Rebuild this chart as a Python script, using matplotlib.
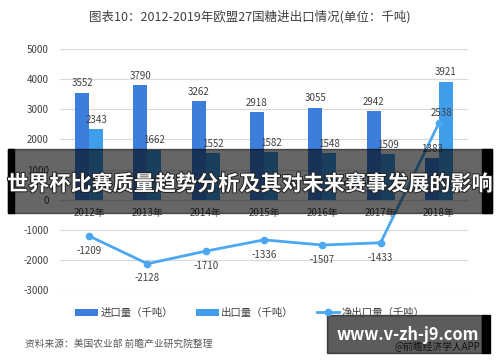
import numpy as np
import matplotlib.pyplot as plt
import matplotlib.patheffects as pe
from matplotlib.patches import Rectangle

plt.rcParams['font.family'] = ['Noto Sans CJK SC', 'DejaVu Sans']

years = ["2012年", "2013年", "2014年", "2015年", "2016年", "2017年", "2018年"]
imports = [3552, 3790, 3262, 2918, 3055, 2942, 1383]
exports = [2343, 1662, 1552, 1582, 1548, 1509, 3921]
net = [-1209, -2128, -1710, -1336, -1507, -1433, 2538]
yticks = [-3000, -2000, -1000, 0, 1000, 2000, 3000, 4000, 5000]

c_imp = '#3C7EDC'
c_exp = '#3F9DEA'
c_net = '#4BA8F0'
txt = '#404040'

W, H = 500, 362
fig = plt.figure(figsize=(5, 3.62), dpi=100)
ax = fig.add_axes([60 / W, 1 - 290 / H, 408 / W, 241 / H])

x = np.arange(len(years))
w = 0.24
b1 = ax.bar(x - w / 2, imports, w, color=c_imp, zorder=2, label='进口量（千吨）')
b2 = ax.bar(x + w / 2, exports, w, color=c_exp, zorder=2, label='出口量（千吨）')
ln, = ax.plot(x, net, color=c_net, lw=2, marker='o', ms=4.5, zorder=3,
              label='净出口量（千吨）')

for xi, v in zip(x, imports):
    ax.annotate(str(v), (xi - w / 2, v), xytext=(0, 3), textcoords='offset points',
                ha='center', va='bottom', fontsize=7, color=txt)
for xi, v in zip(x, exports):
    ax.annotate(str(v), (xi + w / 2, v), xytext=(0, 3), textcoords='offset points',
                ha='center', va='bottom', fontsize=7, color=txt)
for xi, v in zip(x, net):
    if v > 0:
        ax.annotate(str(v), (xi, v), xytext=(2, 4), textcoords='offset points',
                    ha='center', va='bottom', fontsize=7, color=txt)
    else:
        ax.annotate(str(v), (xi, v), xytext=(0, -7), textcoords='offset points',
                    ha='center', va='top', fontsize=7, color=txt)

for xi, lab in zip(x, years):
    ax.text(xi, -460, lab, ha='center', va='center', fontsize=7, color=txt)

ax.set_xlim(-0.5, len(years) - 0.5)
ax.set_ylim(-3000, 5000)
ax.set_yticks(yticks)
ax.set_yticklabels([str(t) for t in yticks], fontsize=7, color=txt)
ax.set_xticks([])
ax.tick_params(axis='y', length=0, pad=8)
ax.grid(axis='y', color='#D9D9D9', lw=0.8, zorder=0)
for s in ax.spines.values():
    s.set_visible(False)

fig.text(0.5, 1 - 17 / H, '图表10：2012-2019年欧盟27国糖进出口情况(单位：千吨)',
         ha='center', va='center', fontsize=9, color='#404040')

fig.legend(handles=[b1, b2, ln], loc='center', bbox_to_anchor=(0.5, 1 - 313 / H),
           ncol=3, frameon=False, fontsize=7.5, handlelength=2.2, handletextpad=0.2,
           columnspacing=2.2, labelcolor=txt)

fig.text(25 / W, 1 - 344 / H, '资料来源：美国农业部 前瞻产业研究院整理',
         ha='left', va='center', fontsize=7, color='#595959', style='italic')

# overlay banner
fig.patches.append(Rectangle((8 / W, 1 - 213 / H), 484 / W, 64 / H,
                             transform=fig.transFigure, color='black', alpha=0.6, zorder=5))
fig.patches.append(Rectangle((8 / W, 1 - 213 / H), 6 / W, 64 / H,
                             transform=fig.transFigure, color='black', zorder=5))
fig.patches.append(Rectangle((482 / W, 1 - 213 / H), 10 / W, 64 / H,
                             transform=fig.transFigure, color='black', zorder=5))
fig.text(0.5, 1 - 184 / H, '世界杯比赛质量趋势分析及其对未来赛事发展的影响',
         ha='center', va='center', fontsize=15.2, color='white', weight='bold', zorder=6,
         path_effects=[pe.withStroke(linewidth=1.5, foreground='#222222')])

# watermark box bottom right
fig.text(480 / W, 1 - 347 / H, '@前瞻经济学人APP', ha='right', va='center',
         fontsize=7, color='#333333', zorder=4)
fig.patches.append(Rectangle((327 / W, 1 - 353 / H), 155 / W, 38 / H,
                             transform=fig.transFigure, color='black', alpha=0.64, zorder=5))
fig.patches.append(Rectangle((482 / W, 1 - 353 / H), 8 / W, 38 / H,
                             transform=fig.transFigure, color='black', zorder=5))
fig.text(408 / W, 1 - 335 / H, 'www.v-zh-j9.com', ha='center', va='center',
         fontsize=11.8, color='white', weight='bold', zorder=6)

fig.savefig('out.png', dpi=100)
